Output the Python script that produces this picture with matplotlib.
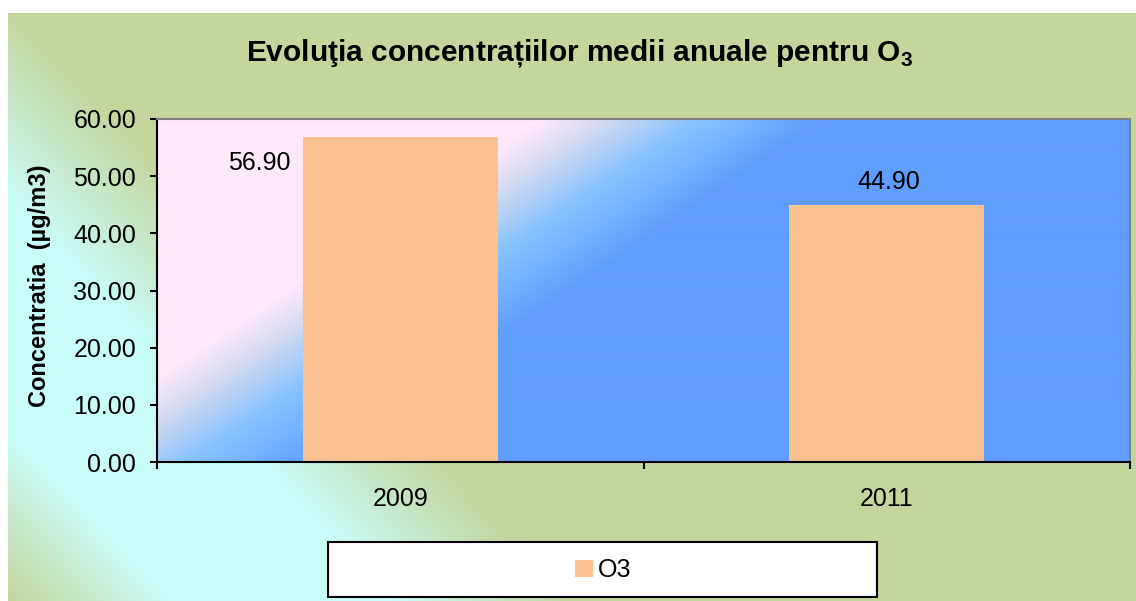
import numpy as np
import matplotlib
matplotlib.use("Agg")
import matplotlib.pyplot as plt
from matplotlib.patches import Rectangle, Patch

plt.rcParams['font.family'] = ['Liberation Sans', 'DejaVu Sans']
plt.rcParams['mathtext.fontset'] = 'custom'
plt.rcParams['mathtext.rm'] = 'Liberation Sans'
plt.rcParams['mathtext.bf'] = 'Liberation Sans:bold'

# data
years = ['2009', '2011']
o3_values = [56.90, 44.90]
series_name = 'O3'
yticks = [0, 10, 20, 30, 40, 50, 60]

W, H = 1136, 601
BAR_COLOR = '#F9C090'


def hex_rgb(h):
    h = h.lstrip('#')
    return np.array([int(h[i:i + 2], 16) / 255 for i in (0, 2, 4)])


def gradient(t, stops, colors):
    cols = np.array([hex_rgb(c) for c in colors])
    img = np.zeros(t.shape + (3,))
    for k in range(3):
        img[..., k] = np.interp(t, stops, cols[:, k])
    return img


fig = plt.figure(figsize=(W / 100, H / 100), dpi=100)
fig.patch.set_facecolor('white')

# chart area background (green -> cyan -> green diagonal)
bg = fig.add_axes([8 / W, 0, 1 - 8 / W, (H - 13) / H])
bg.axis('off')
xx, yy = np.meshgrid(np.arange(8, W), np.arange(13, H))
t = yy - 1.05 * xx
bg_img = gradient(t, [-1500, 0, 190, 420, 590, 800],
                  ['#C4D69C', '#C4D69C', '#C8FCF9', '#C8FCF9', '#C4D69C', '#C4D69C'])
bg.imshow(bg_img, extent=(0, 1, 0, 1), aspect='auto', origin='upper')
bg.set_xlim(0, 1)
bg.set_ylim(0, 1)

# plot area
left, right, top, bottom = 157, 1130, 119, 462
ax = fig.add_axes([left / W, (H - bottom) / H, (right - left) / W, (bottom - top) / H])
px, py = np.meshgrid(np.arange(left, right), np.arange(top, bottom))
tp = 227 * px + 340 * py
plot_img = gradient(tp, [0, 163800, 177000, 199000, 228000, 400000],
                    ['#FDE9FA', '#FDE9FA', '#D9DCEF', '#88C3FF', '#5F9EFF', '#5F9EFF'])
ax.imshow(plot_img, extent=(0, 1, 0, 1), transform=ax.transAxes,
          aspect='auto', origin='upper', zorder=0)

x = np.arange(len(years))
bars = ax.bar(x, o3_values, width=0.4, color=BAR_COLOR, zorder=2)
ax.set_xlim(-0.5, len(years) - 0.5)
ax.set_ylim(0, 60)
ax.set_yticks(yticks)
ax.set_yticklabels([f'{v:.2f}' for v in yticks], fontsize=18)
ax.tick_params(axis='y', direction='out', length=5, width=1.5, pad=10)

ax.set_xticks(np.arange(-0.5, len(years), 1.0))
ax.set_xticklabels([])
ax.set_xticks(x, minor=True)
ax.set_xticklabels(years, minor=True, fontsize=18)
ax.tick_params(axis='x', which='major', direction='out', length=5, width=1.5)
ax.tick_params(axis='x', which='minor', length=0, pad=18)

for s in ['left', 'bottom']:
    ax.spines[s].set_color('black')
    ax.spines[s].set_linewidth(1.5)
for s in ['top', 'right']:
    ax.spines[s].set_color('#808080')
    ax.spines[s].set_linewidth(1.5)

# data labels (first one sits to the left of its bar, as in the source)
ax.annotate(f'{o3_values[0]:.2f}', (x[0], o3_values[0]), xytext=(-141 * 0.72, -26 * 0.72),
            textcoords='offset points', ha='center', va='center', fontsize=18)
ax.annotate(f'{o3_values[1]:.2f}', (x[1], o3_values[1]), xytext=(2 * 0.72, 23 * 0.72),
            textcoords='offset points', ha='center', va='center', fontsize=18)

fig.text(580 / W, 1 - 53 / H, r'Evoluţia concentrațiilor medii anuale pentru O$_{\mathbf{3}}$',
         ha='center', va='center', fontsize=21.5, fontweight='bold')
fig.text(40 / W, 1 - 286 / H, 'Concentratia  (µg/m3)', rotation=90,
         ha='center', va='center', fontsize=17, fontweight='bold')

# legend box
fig.patches.append(Rectangle((328 / W, 1 - 597 / H), (877 - 328) / W, (597 - 542) / H,
                             transform=fig.transFigure, facecolor='white',
                             edgecolor='black', linewidth=1.5, zorder=3))
leg = fig.legend(handles=[Patch(facecolor=BAR_COLOR, label=series_name)],
                 loc='center', bbox_to_anchor=(603 / W, 1 - 570 / H), frameon=False,
                 fontsize=18, handlelength=0.7, handleheight=0.7, handletextpad=0.2)
leg.set_zorder(4)

plt.savefig('out.png', dpi=100)
plt.close(fig)
